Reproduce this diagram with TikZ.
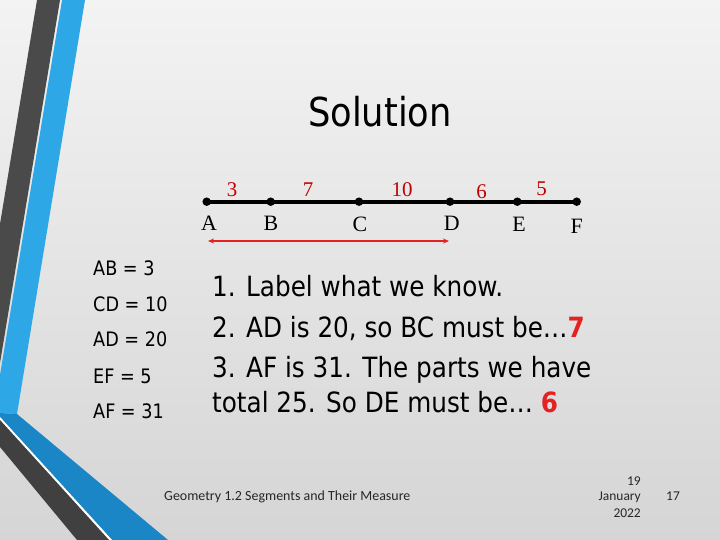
\documentclass[tikz,border=0pt]{standalone}
\usepackage{fontspec}
\usetikzlibrary{arrows.meta}
\newfontfamily\tah{DejaVu Sans}[FakeStretch=0.885]
\newfontfamily\footfont{Carlito}
\newfontfamily\tnr{Liberation Serif}
\definecolor{bgtop}{HTML}{F3F3F3}
\definecolor{bgbot}{HTML}{D5D5D5}
\definecolor{bandgray}{HTML}{4A4A4A}
\definecolor{bandgrayb}{HTML}{404040}
\definecolor{bandblue}{HTML}{2DA7E6}
\definecolor{bandblueb}{HTML}{1A86C6}
\definecolor{numred}{HTML}{C00000}
\definecolor{ansred}{HTML}{E42222}
\definecolor{foottxt}{HTML}{262626}
\tikzset{
  pt/.style={circle,fill=black,inner sep=0pt,minimum size=8.5bp},
  ptlabel/.style={anchor=base,inner sep=0pt,font=\tnr\fontsize{22}{22}\selectfont},
  seglabel/.style={anchor=base,inner sep=0pt,text=numred,font=\tnr\fontsize{21}{21}\selectfont},
  bodytext/.style={anchor=base west,inner sep=0pt,font=\tah\fontsize{28}{28}\selectfont},
  givtext/.style={anchor=base west,inner sep=0pt,font=\tah\fontsize{20}{20}\selectfont},
  foot/.style={inner sep=0pt,text=foottxt,font=\footfont\fontsize{14}{14}\selectfont},
  datefoot/.style={foot,font=\footfont\fontsize{13.5}{13.5}\selectfont},
  ans/.style={text=ansred,font=\tah\bfseries}
}
\begin{document}
\begin{tikzpicture}[x=1bp,y=-1bp]
\useasboundingbox (0,0) rectangle (720,540);
% background
\shade[top color=bgtop,bottom color=bgbot] (0,0) rectangle (720,540);
% decorative bands
\fill[bandgray] (37,0) -- (60,0) -- (0,363) -- (0,224) -- cycle;
\fill[bandblue] (62,0) -- (85,0) -- (17,414) -- (0,413) -- (0,375) -- cycle;
\fill[bandblueb] (0,413) -- (17,414) -- (168,540) -- (112,540) -- (0,417) -- cycle;
\fill[white] (0,417) -- (112,540) -- (109,540) -- (0,420) -- cycle;
\fill[bandgrayb] (0,420) -- (109,540) -- (77,540) -- (0,447) -- cycle;
% title
\node[anchor=base,inner sep=0pt,font=\tah\fontsize{40}{40}\selectfont] (title) at (380,127) {Solution};
% number line
\coordinate (pA) at (206.7,201.7);
\coordinate (pF) at (576.7,201.7);
\draw[line width=3.8bp] (pA) -- (pF);
\node[pt] (A) at (206.7,201.7) {};
\node[pt] (B) at (270.7,201.7) {};
\node[pt] (C) at (359,201.7) {};
\node[pt] (D) at (450,201.7) {};
\node[pt] (E) at (517.3,201.7) {};
\node[pt] (F) at (576.7,201.7) {};
\node[ptlabel] (lA) at (209,231) {A};
\node[ptlabel] (lB) at (271,231) {B};
\node[ptlabel] (lC) at (360,232) {C};
\node[ptlabel] (lD) at (451.7,231) {D};
\node[ptlabel] (lE) at (519,232) {E};
\node[ptlabel] (lF) at (576.7,234) {F};
\node[seglabel] (s1) at (232,196.5) {3};
\node[seglabel] (s2) at (308,196.5) {7};
\node[seglabel] (s3) at (402,197) {10};
\node[seglabel] (s4) at (481.5,199) {6};
\node[seglabel] (s5) at (541.5,196) {5};
% red arrow A to D
\coordinate (arL) at (208,241);
\coordinate (arR) at (449,241);
\draw[draw=ansred,line width=1.6bp,{Stealth[length=6bp,width=5bp]}-{Stealth[length=6bp,width=5bp]}] (arL) -- (arR);
% givens
\node[givtext] (g1) at (93,276) {AB = 3};
\node[givtext] (g2) at (93,311) {CD = 10};
\node[givtext] (g3) at (93,346) {AD = 20};
\node[givtext] (g4) at (93,383) {EF = 5};
\node[givtext] (g5) at (93,418) {AF = 31};
% body
\node[bodytext] (t1) at (212,296) {1. Label what we know.};
\node[bodytext] (t2) at (212,337) {2. AD is 20, so BC must be…{\color{ansred}\bfseries 7}};
\node[bodytext] (t3) at (212,377) {3. AF is 31. The parts we have};
\node[bodytext] (t4) at (212,412) {total 25. So DE must be… {\color{ansred}\bfseries 6}};
% footer
\node[foot,anchor=base west] (f1) at (164,500) {Geometry 1.2 Segments and Their Measure};
\node[datefoot,anchor=base east] (d1) at (641,485) {19};
\node[datefoot,anchor=base east] (d2) at (641,500) {January};
\node[datefoot,anchor=base east] (d3) at (641,517) {2022};
\node[datefoot,anchor=base west] (pg) at (666,500) {17};
\end{tikzpicture}
\end{document}
